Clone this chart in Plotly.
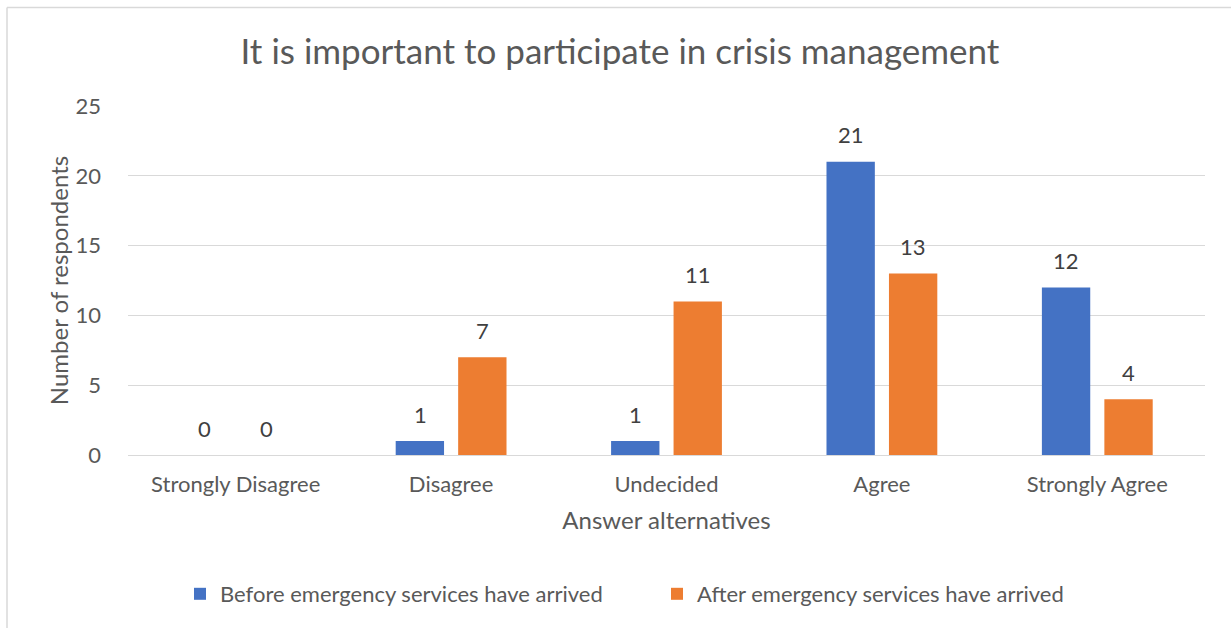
import plotly.graph_objects as go

categories = ["Strongly Disagree", "Disagree", "Undecided", "Agree", "Strongly Agree"]
before_arrival = [0, 1, 1, 21, 12]
after_arrival = [0, 7, 11, 13, 4]
series_names = ["Before emergency services have arrived", "After emergency services have arrived"]
series_colors = ["#4472C4", "#ED7D31"]

FONT = "Lato"
TEXT = "#595959"
LABEL = "#404040"

# plot area geometry (pixels)
L, R, T, B = 128, 1205, 106, 455
W, H = 1231, 628
px2x = lambda p: (p - L) / (R - L)
py2y = lambda p: (B - p) / (B - T)

fig = go.Figure()
annotations = []
for i, (name, vals, color) in enumerate(zip(series_names, [before_arrival, after_arrival], series_colors)):
    fig.add_trace(go.Bar(x=categories, y=vals, name=name, marker_color=color,
                         marker_line_width=0))
    # value labels above each bar of the group
    shift = -31 if i == 0 else 31
    for cat, v in zip(categories, vals):
        annotations.append(dict(
            x=cat, y=v, xref="x", yref="y", text=str(v), showarrow=False,
            xshift=shift, yshift=27, yanchor="middle",
            font=dict(family=FONT, size=22, color=LABEL),
        ))

fig.update_layout(
    width=W, height=H,
    margin=dict(l=L, r=W - R, t=T, b=H - B),
    paper_bgcolor="white", plot_bgcolor="white",
    barmode="group", bargap=0.42, bargroupgap=0.226,
    title=dict(text="It is important to participate in crisis management",
               x=620 / W, xref="container", xanchor="center",
               y=1 - 52 / H, yref="container", yanchor="middle",
               font=dict(family=FONT, size=35, color=TEXT)),
    font=dict(family=FONT, color=TEXT),
    showlegend=True,
    legend=dict(orientation="h", x=px2x(180), xanchor="left",
                y=py2y(594), yanchor="middle",
                font=dict(family=FONT, size=22, color=TEXT),
                entrywidth=432, entrywidthmode="pixels",
                traceorder="normal"),
    annotations=annotations,
    shapes=[
        dict(type="line", xref="paper", yref="paper",
             x0=px2x(7), x1=px2x(1240), y0=py2y(7.5), y1=py2y(7.5),
             line=dict(color="#D9D9D9", width=1.5)),
        dict(type="line", xref="paper", yref="paper",
             x0=px2x(7), x1=px2x(7), y0=py2y(7.5), y1=py2y(640),
             line=dict(color="#D9D9D9", width=1.5)),
    ],
)
fig.update_xaxes(
    showgrid=False, showline=False, ticks="", ticklabelstandoff=14,
    tickfont=dict(family=FONT, size=22, color=TEXT),
    title=dict(text="Answer alternatives", standoff=16,
               font=dict(family=FONT, size=24, color=TEXT)),
)
fig.update_yaxes(
    range=[0, 25], dtick=5, showgrid=True, gridcolor="#D9D9D9", gridwidth=1,
    zeroline=True, zerolinecolor="#D9D9D9", zerolinewidth=1,
    ticks="", ticklabelstandoff=26,
    tickfont=dict(family=FONT, size=22, color=TEXT),
    title=dict(text="Number of respondents", standoff=0,
               font=dict(family=FONT, size=24, color=TEXT)),
)

fig.write_html("out.html")
